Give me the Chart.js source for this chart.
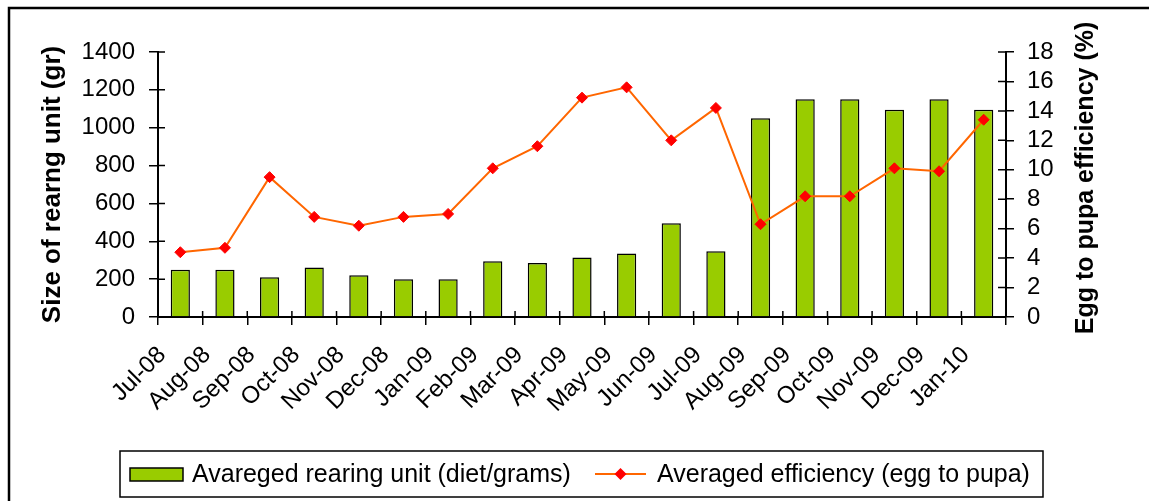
<!DOCTYPE html>
<html>
<head>
<meta charset="utf-8">
<script src="https://cdn.jsdelivr.net/npm/chart.js@4.4.1/dist/chart.umd.min.js"></script>
<style>
body{margin:0;background:#fff;}
canvas{display:block;}
</style>
</head>
<body>
<canvas id="c" width="1149" height="501"></canvas>
<script>
const months=['Jul-08','Aug-08','Sep-08','Oct-08','Nov-08','Dec-08','Jan-09','Feb-09','Mar-09','Apr-09','May-09','Jun-09','Jul-09','Aug-09','Sep-09','Oct-09','Nov-09','Dec-09','Jan-10'];
const rearing=[250,250,210,262,220,200,200,295,285,315,335,495,348,1050,1150,1150,1095,1150,1095];
const efficiency=[4.4,4.7,9.5,6.8,6.2,6.8,7.0,10.1,11.6,14.9,15.6,12.0,14.2,6.3,8.2,8.2,10.1,9.9,13.4];

const FONT="'Liberation Sans', Arial, sans-serif";
const leftTitle='Size of rearng unit (gr)';
const rightTitle='Egg to pupa efficiency (%)';

// frame, inner halves of the tick marks, right title and the boxed legend
const extras={
 id:'extras',
 beforeDraw(chart){
  const ctx=chart.ctx;
  ctx.save();
  ctx.strokeStyle='#000';
  ctx.lineWidth=2.5;
  ctx.beginPath();
  ctx.moveTo(9,501);ctx.lineTo(9,8);ctx.lineTo(1149,8);
  ctx.stroke();
  ctx.restore();
 },
 afterDraw(chart){
  const ctx=chart.ctx;
  const a=chart.chartArea;
  const ys=chart.scales.y, y2=chart.scales.y2, xs=chart.scales.x;
  ctx.save();
  ctx.strokeStyle='#000';
  ctx.lineWidth=1.5;
  ctx.beginPath();
  ys.ticks.forEach((t,i)=>{const p=ys.getPixelForTick(i);ctx.moveTo(a.left,p);ctx.lineTo(a.left+7,p);});
  y2.ticks.forEach((t,i)=>{const p=y2.getPixelForTick(i);ctx.moveTo(a.right,p);ctx.lineTo(a.right-8,p);});
  for(let i=0;i<=months.length;i++){
   const p=xs.getPixelForValue(i-0.5);
   ctx.moveTo(p,a.bottom);ctx.lineTo(p,a.bottom-6);
  }
  ctx.stroke();

  ctx.fillStyle='#000';
  ctx.font='bold 25px '+FONT;
  ctx.textAlign='center';
  ctx.textBaseline='middle';
  ctx.translate(1086,178);
  ctx.rotate(-Math.PI/2);
  ctx.fillText(rightTitle,0,0);
  ctx.restore();

  // legend
  const ds=chart.data.datasets;
  ctx.save();
  ctx.strokeStyle='#000';
  ctx.lineWidth=1.5;
  ctx.strokeRect(120,451,923,46);
  ctx.fillStyle=ds[0].backgroundColor;
  ctx.fillRect(130,468,53,13);
  ctx.strokeRect(130,468,53,13);
  ctx.strokeStyle=ds[1].borderColor;
  ctx.lineWidth=2;
  ctx.beginPath();ctx.moveTo(595,474);ctx.lineTo(646,474);ctx.stroke();
  ctx.fillStyle=ds[1].pointBackgroundColor;
  ctx.beginPath();
  ctx.moveTo(620.5-6,474);ctx.lineTo(620.5,468);ctx.lineTo(620.5+6,474);ctx.lineTo(620.5,480);
  ctx.closePath();ctx.fill();
  ctx.fillStyle='#000';
  ctx.font='25px '+FONT;
  ctx.textBaseline='middle';
  ctx.textAlign='left';
  ctx.fillText(ds[0].label,192,475);
  ctx.fillText(ds[1].label,657,475);
  ctx.restore();
 }
};

new Chart(document.getElementById('c'),{
 type:'bar',
 data:{
  labels:months,
  datasets:[
   {type:'bar',label:'Avareged rearing unit (diet/grams)',data:rearing,yAxisID:'y',
    backgroundColor:'#99CC00',borderColor:'#000',borderWidth:1.5,
    barPercentage:0.43,categoryPercentage:1,order:2},
   {type:'line',label:'Averaged efficiency (egg to pupa)',data:efficiency,yAxisID:'y2',
    borderColor:'#FF6600',borderWidth:2,pointStyle:'rectRot',pointRadius:5.5,
    pointBackgroundColor:'#FF0000',pointBorderColor:'#FF0000',pointBorderWidth:1,
    tension:0,order:1}
  ]
 },
 options:{
  responsive:false,
  animation:false,
  devicePixelRatio:1,
  layout:{padding:{top:52,left:0,right:0,bottom:0}},
  plugins:{legend:{display:false},tooltip:{enabled:false}},
  scales:{
   x:{
    afterFit(s){s.height=184;},
    grid:{drawOnChartArea:false,color:'#000',lineWidth:1.5,tickLength:8},
    border:{color:'#000',width:2},
    ticks:{color:'#000',font:{family:FONT,size:24},minRotation:45,maxRotation:45,autoSkip:false,padding:16,labelOffset:-18}
   },
   y:{
    position:'left',min:0,max:1400,
    afterFit(s){s.width=158;},
    grid:{drawOnChartArea:false,color:'#000',lineWidth:1.5,tickLength:9},
    border:{color:'#000',width:2},
    ticks:{stepSize:200,autoSkip:false,color:'#000',font:{family:FONT,size:24},padding:14,callback:v=>String(v)},
    title:{display:true,text:leftTitle,color:'#000',font:{family:FONT,size:26,weight:'bold'},padding:{top:37,bottom:0}}
   },
   y2:{
    position:'right',min:0,max:18,
    afterFit(s){s.width=143;},
    grid:{drawOnChartArea:false,color:'#000',lineWidth:1.5,tickLength:8},
    border:{color:'#000',width:2},
    ticks:{stepSize:2,autoSkip:false,color:'#000',font:{family:FONT,size:24},padding:13,callback:v=>String(v)}
   }
  }
 },
 plugins:[extras]
});
</script>
</body>
</html>
